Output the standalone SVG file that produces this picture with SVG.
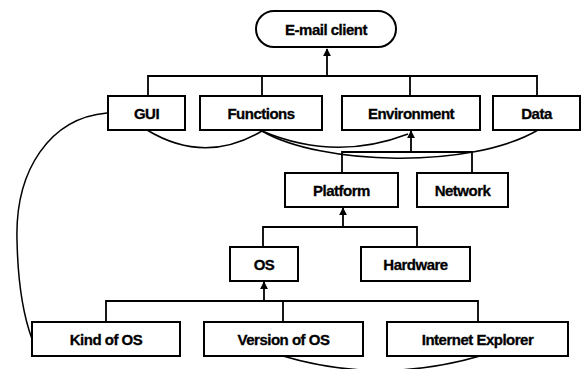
<svg xmlns="http://www.w3.org/2000/svg" width="584" height="369" viewBox="0 0 584 369">
  <style>
    .box { fill: #fff; stroke: #000; stroke-width: 2; }
    .lbl { font-family: "Liberation Sans", Arial, sans-serif; font-weight: bold; font-size: 15px; letter-spacing: -0.5px; text-anchor: middle; dominant-baseline: central; fill: #000; stroke: #000; stroke-width: 0.3; }
    .tree { fill: none; stroke: #000; stroke-width: 1.8; }
    .curve { fill: none; stroke: #000; stroke-width: 1.5; }
  </style>
  <defs>
    <marker id="arrow" viewBox="0 0 10 10" refX="9" refY="5" markerWidth="8" markerHeight="8" markerUnits="userSpaceOnUse" orient="auto">
      <path d="M0,0 L10,5 L0,10 Z" fill="#000"/>
    </marker>
  </defs>

  <g id="connectors">
    <!-- top level decomposition -->
    <path class="tree" d="M148,96 V76 H537 V96 M262,76 V96 M410,76 V96"/>
    <path class="tree" d="M327,76 V49" marker-end="url(#arrow)"/>
    <!-- environment decomposition -->
    <path class="tree" d="M342,173 V152 H472 V173"/>
    <path class="tree" d="M411,152 V131" marker-end="url(#arrow)"/>
    <!-- platform decomposition -->
    <path class="tree" d="M263,247 V227 H417 V247"/>
    <path class="tree" d="M343,227 V208" marker-end="url(#arrow)"/>
    <!-- OS decomposition -->
    <path class="tree" d="M106,322 V301 H478 V322 M283,301 V322"/>
    <path class="tree" d="M264,301 V282" marker-end="url(#arrow)"/>
    <!-- dependency curves -->
    <path class="curve" d="M107,113 C50,118 15,170 17,240 C18,290 25,320 32,339"/>
    <path class="curve" d="M147,130 Q205,165 262,131"/>
    <path class="curve" d="M262,131 Q335,162 408,134"/>
    <path class="curve" d="M262,131 C320,165 470,170 538,130"/>
    <path class="curve" d="M283,356 Q380,385 480,356"/>
  </g>

  <g id="email-client">
    <rect class="box" x="256" y="11" width="140" height="36" rx="18"/>
    <text class="lbl" x="326" y="29">E-mail client</text>
  </g>
  <g id="gui">
    <rect class="box" x="108" y="96" width="77" height="34"/>
    <text class="lbl" x="146.5" y="113">GUI</text>
  </g>
  <g id="functions">
    <rect class="box" x="200" y="96" width="122" height="34"/>
    <text class="lbl" x="261" y="113">Functions</text>
  </g>
  <g id="environment">
    <rect class="box" x="342" y="96" width="138" height="34"/>
    <text class="lbl" x="411" y="113">Environment</text>
  </g>
  <g id="data">
    <rect class="box" x="493" y="96" width="87" height="34"/>
    <text class="lbl" x="536.5" y="113">Data</text>
  </g>
  <g id="platform">
    <rect class="box" x="285" y="173" width="113" height="34"/>
    <text class="lbl" x="341.5" y="190">Platform</text>
  </g>
  <g id="network">
    <rect class="box" x="417" y="173" width="91" height="34"/>
    <text class="lbl" x="462.5" y="190">Network</text>
  </g>
  <g id="os">
    <rect class="box" x="230" y="247" width="68" height="34"/>
    <text class="lbl" x="264" y="264">OS</text>
  </g>
  <g id="hardware">
    <rect class="box" x="361" y="247" width="109" height="34"/>
    <text class="lbl" x="415.5" y="264">Hardware</text>
  </g>
  <g id="kind-of-os">
    <rect class="box" x="32" y="322" width="148" height="34"/>
    <text class="lbl" x="106" y="339">Kind of OS</text>
  </g>
  <g id="version-of-os">
    <rect class="box" x="204" y="322" width="159" height="34"/>
    <text class="lbl" x="283.5" y="339">Version of OS</text>
  </g>
  <g id="internet-explorer">
    <rect class="box" x="387" y="322" width="181" height="34"/>
    <text class="lbl" x="477.5" y="339">Internet Explorer</text>
  </g>
</svg>
